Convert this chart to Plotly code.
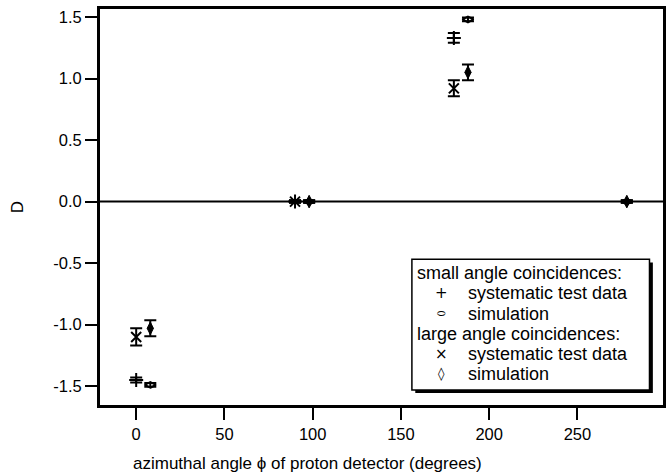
import plotly.graph_objects as go

# Data
phi_sys = [0, 90, 180]
D_small_sys = [-1.45, 0.0, 1.33]
E_small_sys = [0.02, 0.01, 0.04]
D_large_sys = [-1.10, 0.0, 0.92]
E_large_sys = [0.07, 0.01, 0.065]

phi_sim = [8, 98, 188, 278]
D_small_sim = [-1.49, 0.0, 1.48, 0.0]
E_small_sim = [0.015, 0.01, 0.015, 0.01]
D_large_sim = [-1.03, 0.0, 1.05, 0.0]
E_large_sim = [0.065, 0.01, 0.065, 0.01]

x_ticks = [0, 50, 100, 150, 200, 250]
y_ticks = [-1.5, -1.0, -0.5, 0.0, 0.5, 1.0, 1.5]
y_ticklabels = ["-1.5", "-1.0", "-0.5", "0.0", "0.5", "1.0", "1.5"]

FONT = "Liberation Sans, Arial, Helvetica, sans-serif"

def eb(err):
    return dict(type="data", array=err, visible=True, color="black", thickness=2, width=6)

fig = go.Figure()

fig.add_trace(go.Scatter(x=phi_sys, y=D_small_sys, mode="markers", error_y=eb(E_small_sys),
                         marker=dict(symbol="cross-thin", size=10, line=dict(width=2, color="black")),
                         showlegend=False))
fig.add_trace(go.Scatter(x=phi_sim, y=D_small_sim, mode="markers", error_y=eb(E_small_sim),
                         marker=dict(symbol="diamond-wide-open", size=8, color="black", line=dict(width=2, color="black")),
                         showlegend=False))
fig.add_trace(go.Scatter(x=phi_sys, y=D_large_sys, mode="markers", error_y=eb(E_large_sys),
                         marker=dict(symbol="x-thin", size=10, line=dict(width=2, color="black")),
                         showlegend=False))
fig.add_trace(go.Scatter(x=phi_sim, y=D_large_sim, mode="markers", error_y=eb(E_large_sim),
                         marker=dict(symbol="diamond-tall", size=9, color="black", line=dict(width=1, color="black")),
                         showlegend=False))

# zero line
fig.add_hline(y=0, line=dict(color="black", width=2), layer="below")

# Legend box with shadow
x0, x1, y0, y1 = 0.554, 0.976, 0.038, 0.368
fig.add_shape(type="rect", xref="paper", yref="paper", x0=x0 + 0.006, x1=x1 + 0.006,
              y0=y0 - 0.008, y1=y1 - 0.008, fillcolor="black", line=dict(width=0))
fig.add_shape(type="rect", xref="paper", yref="paper", x0=x0, x1=x1, y0=y0, y1=y1,
              fillcolor="white", line=dict(color="black", width=1.5))

rows = [
    (None, "small angle coincidences:"),
    ("+", "systematic test data"),
    ("\u2b2d", "simulation"),
    (None, "large angle coincidences:"),
    ("\u00d7", "systematic test data"),
    ("\u25ca", "simulation"),
]
ys = [0.333, 0.282, 0.231, 0.180, 0.129, 0.078]
sym_sizes = [None, 15, 10, None, 15, 13]
for (sym, txt), yy, ss in zip(rows, ys, sym_sizes):
    if sym is None:
        fig.add_annotation(x=0.561, y=yy, xref="paper", yref="paper", text=txt, showarrow=False,
                           borderpad=0, xanchor="left", yanchor="middle",
                           font=dict(family=FONT, size=18, color="black"))
    else:
        fig.add_annotation(x=0.606, y=yy, xref="paper", yref="paper", text=sym, showarrow=False,
                           borderpad=0, xanchor="center", yanchor="middle",
                           font=dict(family="DejaVu Sans", size=ss, color="black"))
        fig.add_annotation(x=0.651, y=yy, xref="paper", yref="paper", text=txt, showarrow=False,
                           borderpad=0, xanchor="left", yanchor="middle",
                           font=dict(family=FONT, size=18, color="black"))

# x axis title (placed as in the reference)
fig.add_annotation(x=0.368, y=-0.147, xref="paper", yref="paper",
                   text="azimuthal angle \u03d5 of proton detector (degrees)", showarrow=False,
                   xanchor="center", yanchor="middle", font=dict(family=FONT, size=17, color="black"))

fig.update_layout(
    width=672, height=474,
    margin=dict(l=100, r=9, t=6, b=69),
    paper_bgcolor="white", plot_bgcolor="white",
    font=dict(family=FONT, size=16, color="black"),
    showlegend=False,
)
fig.update_xaxes(range=[-20.5, 298.5], tickvals=x_ticks, ticks="outside", ticklen=12, tickwidth=2,
                 tickcolor="black", showline=True, linewidth=3, linecolor="black", mirror=True,
                 showgrid=False, zeroline=False, tickfont=dict(size=16.5))
fig.update_yaxes(range=[-1.653, 1.565], tickvals=y_ticks, ticktext=y_ticklabels, ticks="outside", ticklen=12,
                 tickwidth=2, tickcolor="black", showline=True, linewidth=3, linecolor="black", mirror=True,
                 showgrid=False, zeroline=False, tickfont=dict(size=16.5),
                 title=dict(text="D", font=dict(size=17), standoff=26))

fig.write_html("out.html")
